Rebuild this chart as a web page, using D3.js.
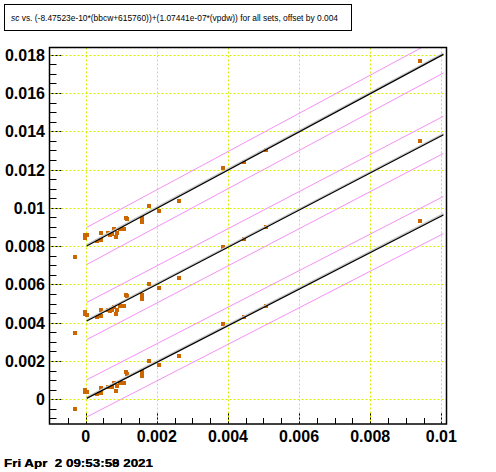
<!DOCTYPE html>
<html lang="en">
<head>
  <meta charset="UTF-8">
  <title>Document</title>
  <style type="text/css" media="all">
    body { margin: 0; background: #fff; }
    svg { display: block; font-family: "Liberation Sans", Arial, sans-serif; }
  </style>
</head>
<body>

  <div id="graph"></div>
  <script src="https://d3js.org/d3.v7.min.js" charset="utf-8"></script>
  <script>
    var titleText = "vs. (-8.47523e-10*(bbcw+615760))+(1.07441e-07*(vpdw)) for all sets, offset by 0.004";
    var dateTexts = ["Fri Apr  2 09:53:58 2021", "Fri Apr  2 09:53:59 2021"];

    var xTicks = [0, 0.002, 0.004, 0.006, 0.008, 0.01];
    var xTickLabels = ["0", "0.002", "0.004", "0.006", "0.008", "0.01"];
    var yTicks = [0, 0.002, 0.004, 0.006, 0.008, 0.01, 0.012, 0.014, 0.016, 0.018];
    var yTickLabels = ["0", "0.002", "0.004", "0.006", "0.008", "0.01", "0.012", "0.014", "0.016", "0.018"];

    // same x for every set, y already offset by 0.004 per set
    var setX = [-0.00029, -0.00001, -0.00001, 0.00005, 0.00042, 0.00042, 0.00033, 0.00062, 0.00068,
      0.00075, 0.00081, 0.00089, 0.00084, 0.00096, 0.00102, 0.00107, 0.00112, 0.00115, 0.00157,
      0.00157, 0.00179, 0.00207, 0.00263, 0.00387, 0.00444, 0.00508, 0.0094];
    var set0Y = [-0.00052, 0.00049, 0.00038, 0.00036, 0.00061, 0.00031, 0.00026, 0.00063, 0.00063,
      0.00063, 0.00083, 0.00068, 0.00042, 0.00087, 0.00083, 0.00083, 0.00141, 0.00130, 0.00141,
      0.00120, 0.00198, 0.00178, 0.00225, 0.00392, 0.00428, 0.00488, 0.00929];
    var set1Y = [0.00345, 0.00454, 0.00444, 0.00439, 0.00465, 0.00435, 0.00428, 0.00466, 0.00461,
      0.00465, 0.00484, 0.00465, 0.00444, 0.00489, 0.00486, 0.00486, 0.00543, 0.00538, 0.00543,
      0.00522, 0.00601, 0.00580, 0.00632, 0.00794, 0.00838, 0.00900, 0.01347];
    var set2Y = [0.00741, 0.00856, 0.00844, 0.00856, 0.00867, 0.00833, 0.00827, 0.00868, 0.00856,
      0.00863, 0.00888, 0.00868, 0.00846, 0.00888, 0.00888, 0.00888, 0.00945, 0.00940, 0.00945,
      0.00924, 0.01008, 0.00982, 0.01034, 0.01206, 0.01242, 0.01305, 0.01765];

    var fitIntercepts = [0.00002, 0.00406, 0.00798];
    var fitSlopes = [0.955, 0.970, 0.998];
    var fitRange = [0.00003, 0.01006];
    var bandWidth = 0.00097;

    var width = 496, height = 472;
    var frame = { left: 49.5, right: 446.5, top: 47.5, bottom: 424 };

    var x = d3.scaleLinear().domain([-0.001017, 0.010146]).range([frame.left, frame.right]);
    var y = d3.scaleLinear().domain([-0.00129, 0.01838]).range([frame.bottom, frame.top]);

    var svg = d3.select("#graph").append("svg")
        .attr("width", width)
        .attr("height", height);

    svg.append("rect").attr("width", width).attr("height", height).attr("fill", "#fff");

    svg.append("clipPath").attr("id", "plotclip")
      .append("rect")
        .attr("x", frame.left).attr("y", frame.top)
        .attr("width", frame.right - frame.left).attr("height", frame.bottom - frame.top);

    function isMajor(d) {
      return Math.abs(d / 0.002 - Math.round(d / 0.002)) < 1e-6;
    }

    // ticks (inside the frame)
    var minorX = d3.range(-0.0005, 0.0101, 0.0005);
    var minorY = d3.range(-0.001, 0.0184, 0.0005);

    svg.append("g").selectAll("line").data(minorX).join("line")
        .attr("x1", function(d) { return Math.round(x(d)) + 0.5; })
        .attr("x2", function(d) { return Math.round(x(d)) + 0.5; })
        .attr("y1", frame.bottom)
        .attr("y2", function(d) { return frame.bottom - (isMajor(d) ? 11 : 6); })
        .attr("stroke", "#000");

    svg.append("g").selectAll("line").data(minorY).join("line")
        .attr("y1", function(d) { return Math.round(y(d)) + 0.5; })
        .attr("y2", function(d) { return Math.round(y(d)) + 0.5; })
        .attr("x1", frame.left)
        .attr("x2", function(d) { return frame.left + (isMajor(d) ? 12 : 7); })
        .attr("stroke", "#000");

    // grid
    var grid = svg.append("g")
        .attr("stroke", "#d6ef00")
        .attr("stroke-dasharray", "2,2");

    grid.selectAll("line.gx").data(xTicks).join("line")
        .attr("class", "gx")
        .attr("x1", function(d) { return Math.round(x(d)) + 0.5; })
        .attr("x2", function(d) { return Math.round(x(d)) + 0.5; })
        .attr("y1", frame.top).attr("y2", frame.bottom);

    grid.selectAll("line.gy").data(yTicks).join("line")
        .attr("class", "gy")
        .attr("y1", function(d) { return Math.round(y(d)) + 0.5; })
        .attr("y2", function(d) { return Math.round(y(d)) + 0.5; })
        .attr("x1", frame.left).attr("x2", frame.right);

    // markers
    var sets = [set0Y, set1Y, set2Y];
    var points = [];
    sets.forEach(function(ys) {
      ys.forEach(function(v, i) { points.push([setX[i], v]); });
    });

    svg.append("g").attr("clip-path", "url(#plotclip)")
      .selectAll("rect").data(points).join("rect")
        .attr("x", function(d) { return Math.round(x(d[0])) - 2; })
        .attr("y", function(d) { return Math.round(y(d[1])) - 2; })
        .attr("width", 4)
        .attr("height", 4)
        .attr("fill", "#cc6600");

    // fit lines with +- band
    var lines = svg.append("g").attr("clip-path", "url(#plotclip)").attr("fill", "none");

    fitIntercepts.forEach(function(b, i) {
      var m = fitSlopes[i];
      [-bandWidth, bandWidth].forEach(function(off) {
        lines.append("line")
          .attr("x1", x(fitRange[0])).attr("y1", y(b + off + m * fitRange[0]))
          .attr("x2", x(fitRange[1])).attr("y2", y(b + off + m * fitRange[1]))
          .attr("stroke", "#f590f5").attr("stroke-width", 1);
      });
      lines.append("line")
        .attr("x1", x(fitRange[0])).attr("y1", y(b + m * fitRange[0]) - 1.2)
        .attr("x2", x(fitRange[1])).attr("y2", y(b + m * fitRange[1]) - 1.2)
        .attr("stroke", "#c8c8c8").attr("stroke-width", 1.6);
      lines.append("line")
        .attr("x1", x(fitRange[0])).attr("y1", y(b + m * fitRange[0]))
        .attr("x2", x(fitRange[1])).attr("y2", y(b + m * fitRange[1]))
        .attr("stroke", "#000").attr("stroke-width", 1.2);
    });

    // frame
    svg.append("rect")
        .attr("x", frame.left).attr("y", frame.top)
        .attr("width", frame.right - frame.left).attr("height", frame.bottom - frame.top)
        .attr("fill", "none").attr("stroke", "#000").attr("stroke-width", 1.5);

    // tick labels
    svg.append("g").selectAll("text").data(xTicks).join("text")
        .attr("x", function(d) { return x(d); })
        .attr("y", 442)
        .attr("text-anchor", "middle")
        .attr("font-size", 16).attr("font-weight", "bold")
        .text(function(d, i) { return xTickLabels[i]; });

    svg.append("g").selectAll("text").data(yTicks).join("text")
        .attr("x", 45)
        .attr("y", function(d) { return y(d) + 6; })
        .attr("text-anchor", "end")
        .attr("font-size", 16).attr("font-weight", "bold")
        .text(function(d, i) { return yTickLabels[i]; });

    // title box
    svg.append("rect")
        .attr("x", 4.5).attr("y", 4.5).attr("width", 347).attr("height", 26)
        .attr("fill", "#fff").attr("stroke", "#000");

    var title = svg.append("text")
        .attr("x", 11).attr("y", 21)
        .attr("font-size", 9.5)
        .attr("textLength", 327).attr("lengthAdjust", "spacingAndGlyphs");
    title.append("tspan").attr("font-style", "italic").text("sc");
    title.append("tspan").text(" " + titleText);

    // timestamp (two overlapping stamps in the original)
    svg.append("g").selectAll("text").data(dateTexts).join("text")
        .attr("x", 4).attr("y", 467)
        .attr("font-size", 11).attr("font-weight", "bold")
        .style("white-space", "pre")
        .attr("textLength", 149).attr("lengthAdjust", "spacingAndGlyphs")
        .text(function(d) { return d; });
  </script>
</body>
</html>
